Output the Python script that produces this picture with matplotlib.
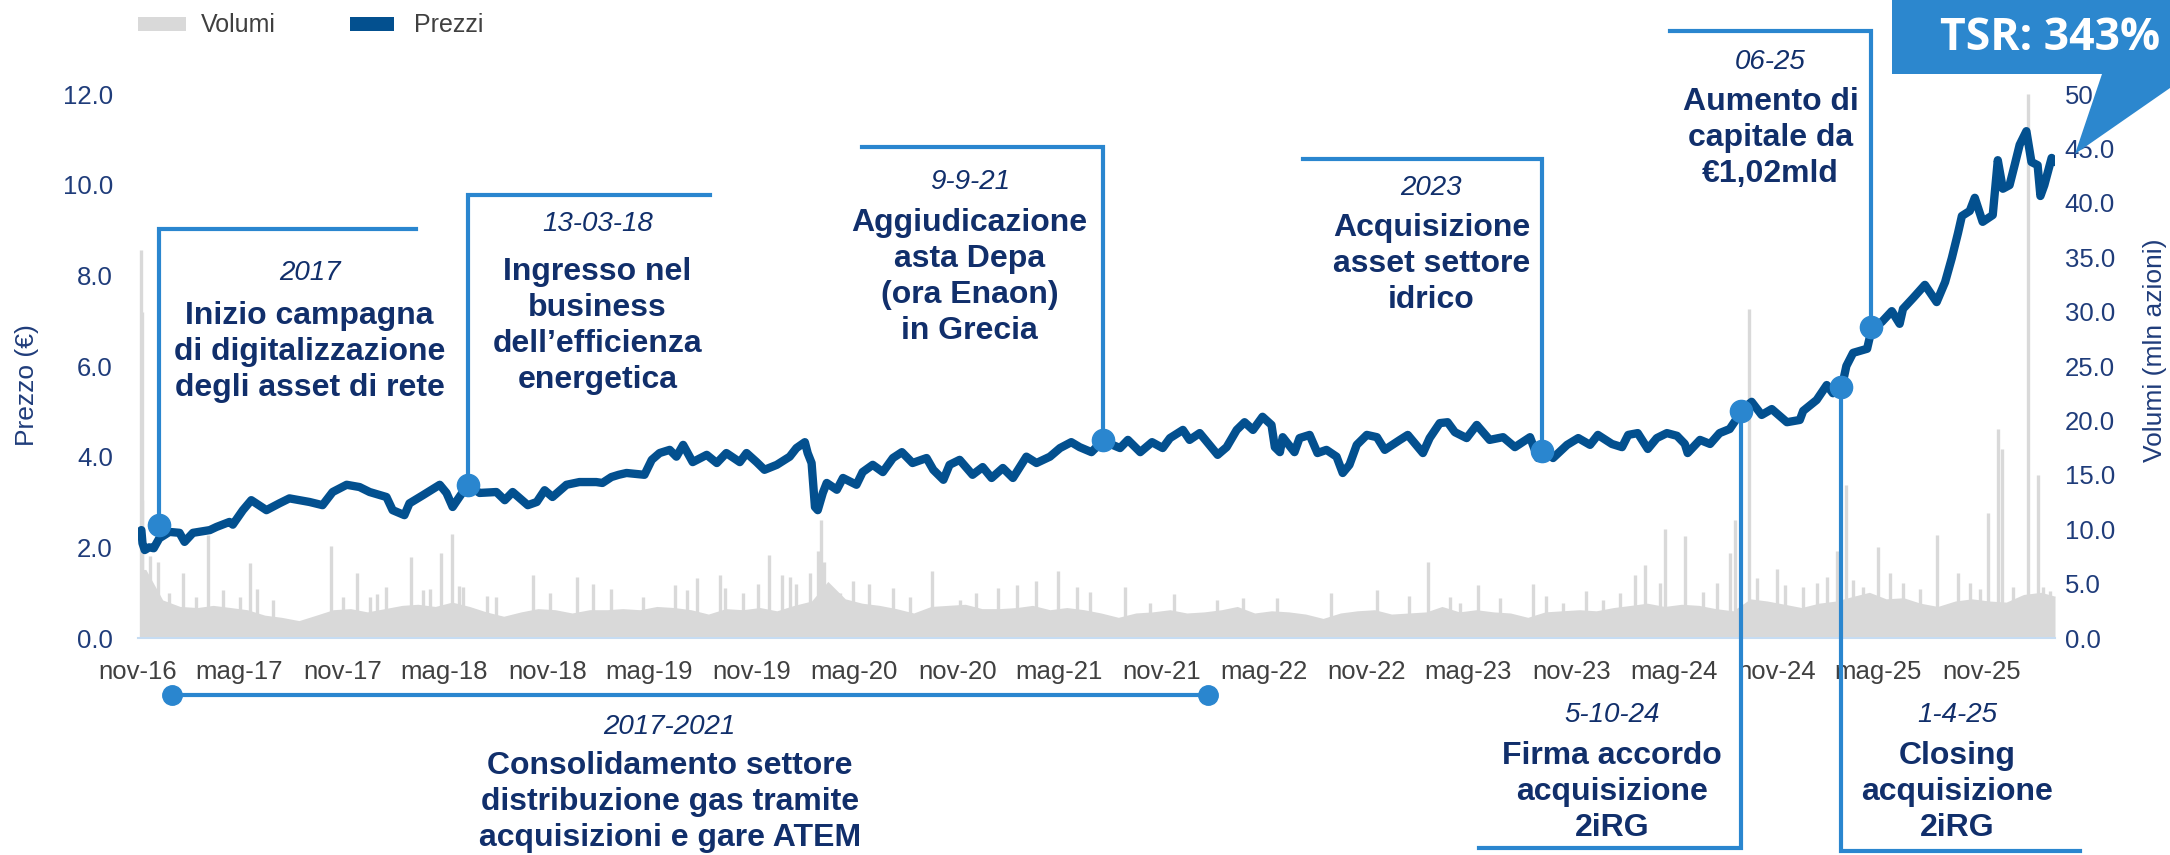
import matplotlib
matplotlib.use("Agg")
import matplotlib.pyplot as plt
import matplotlib.dates as mdates
import numpy as np
import pandas as pd
from matplotlib.patches import Rectangle, Polygon

plt.rcParams["font.family"] = ["Liberation Sans", "DejaVu Sans"]

# Colours
NAVY = "#112F6B"
AXIS_NAVY = "#1F3C7A"
PRICE_BLUE = "#03508F"
EVENT_BLUE = "#2A86CF"
VOL_GREY = "#D9D9D9"
TICK_GREY = "#404040"

W, H = 2170, 855

# ---------------------------------------------------------------------------
# Data
# ---------------------------------------------------------------------------
price_dates = [
    "2016-11-07", "2016-11-09", "2016-11-13", "2016-11-21", "2016-11-29", "2016-12-09", "2016-12-27",
    "2017-01-14", "2017-01-23", "2017-02-07", "2017-03-09", "2017-03-21", "2017-04-13", "2017-04-19",
    "2017-05-07", "2017-05-22", "2017-06-18", "2017-07-11", "2017-07-29", "2017-09-03", "2017-09-26",
    "2017-10-14", "2017-11-08", "2017-12-01", "2017-12-19", "2018-01-18", "2018-01-29", "2018-02-19",
    "2018-02-28", "2018-03-24", "2018-04-23", "2018-05-05", "2018-05-16", "2018-05-28", "2018-06-12",
    "2018-07-03", "2018-08-02", "2018-08-17", "2018-08-31", "2018-09-27", "2018-10-13", "2018-10-27",
    "2018-11-10", "2018-12-05", "2018-12-28", "2019-01-27", "2019-02-07", "2019-02-23", "2019-03-08",
    "2019-03-22", "2019-04-23", "2019-05-06", "2019-05-20", "2019-06-07", "2019-06-19", "2019-07-01",
    "2019-07-18", "2019-08-12", "2019-08-30", "2019-09-16", "2019-10-10", "2019-10-22", "2019-11-09",
    "2019-11-23", "2019-12-15", "2020-01-07", "2020-01-19", "2020-02-03", "2020-02-08", "2020-02-15",
    "2020-02-21", "2020-02-26", "2020-03-06", "2020-03-13", "2020-03-31", "2020-04-11", "2020-05-05",
    "2020-05-16", "2020-06-03", "2020-06-21", "2020-07-09", "2020-07-25", "2020-08-13", "2020-09-07",
    "2020-09-19", "2020-10-07", "2020-10-18", "2020-11-05", "2020-11-28", "2020-12-16", "2021-01-01",
    "2021-01-21", "2021-02-08", "2021-03-04", "2021-03-22", "2021-04-15", "2021-05-03", "2021-05-23",
    "2021-06-07", "2021-06-28", "2021-07-18", "2021-08-18", "2021-09-01", "2021-09-23", "2021-10-14",
    "2021-11-02", "2021-11-15", "2021-12-08", "2021-12-20", "2022-01-07", "2022-02-08", "2022-02-24",
    "2022-03-14", "2022-03-28", "2022-04-12", "2022-04-29", "2022-05-15", "2022-05-21", "2022-05-30",
    "2022-06-04", "2022-06-25", "2022-07-04", "2022-07-22", "2022-08-05", "2022-08-21", "2022-09-08",
    "2022-09-19", "2022-10-01", "2022-10-14", "2022-11-01", "2022-11-19", "2022-12-03", "2022-12-30",
    "2023-01-13", "2023-02-09", "2023-02-21", "2023-03-11", "2023-03-25", "2023-04-07", "2023-04-28",
    "2023-05-16", "2023-06-08", "2023-07-02", "2023-07-23", "2023-08-19", "2023-09-02", "2023-09-15",
    "2023-09-29", "2023-10-24", "2023-11-13", "2023-12-04", "2023-12-18", "2024-01-12", "2024-01-30",
    "2024-02-10", "2024-02-27", "2024-03-16", "2024-04-01", "2024-04-19", "2024-05-07", "2024-05-21",
    "2024-05-26", "2024-06-17", "2024-07-05", "2024-07-22", "2024-08-09", "2024-08-22", "2024-09-02",
    "2024-09-17", "2024-10-05", "2024-10-23", "2024-11-19", "2024-12-12", "2024-12-18", "2025-01-11",
    "2025-01-29", "2025-02-09", "2025-02-25", "2025-03-05", "2025-03-17", "2025-04-11", "2025-04-20",
    "2025-05-07", "2025-05-25", "2025-06-08", "2025-06-14", "2025-07-02", "2025-07-23", "2025-08-13",
    "2025-08-28", "2025-09-09", "2025-09-20", "2025-09-27", "2025-10-11", "2025-10-20", "2025-11-03",
    "2025-11-21", "2025-11-30", "2025-12-09", "2025-12-21", "2025-12-30", "2026-01-08", "2026-01-20",
    "2026-01-29", "2026-02-09", "2026-02-14", "2026-02-21", "2026-03-06", "2026-03-11",
]
price_eur = [
    2.38, 2.09, 1.94, 2.00, 1.98, 2.20, 2.34,
    2.32, 2.12, 2.32, 2.38, 2.45, 2.56, 2.50,
    2.82, 3.04, 2.82, 2.97, 3.08, 3.00, 2.93,
    3.22, 3.38, 3.33, 3.22, 3.11, 2.82, 2.71,
    2.97, 3.15, 3.38, 3.20, 2.89, 3.11, 3.38,
    3.20, 3.22, 3.04, 3.22, 2.93, 3.00, 3.26,
    3.11, 3.38, 3.44, 3.44, 3.42, 3.55, 3.60,
    3.64, 3.60, 3.93, 4.08, 4.15, 4.00, 4.26,
    3.88, 4.04, 3.86, 4.08, 3.88, 4.08, 3.88,
    3.71, 3.82, 4.00, 4.19, 4.32, 4.08, 3.86,
    2.89, 2.82, 3.20, 3.42, 3.27, 3.53, 3.38,
    3.66, 3.82, 3.66, 3.97, 4.10, 3.86, 3.97,
    3.71, 3.49, 3.82, 3.93, 3.60, 3.77, 3.53,
    3.75, 3.53, 4.00, 3.86, 4.00, 4.19, 4.32,
    4.21, 4.10, 4.35, 4.19, 4.37, 4.10, 4.32,
    4.19, 4.41, 4.59, 4.37, 4.52, 4.04, 4.21,
    4.59, 4.76, 4.59, 4.88, 4.70, 4.21, 4.10,
    4.43, 4.10, 4.41, 4.48, 4.08, 4.15, 4.00,
    3.64, 3.82, 4.26, 4.48, 4.43, 4.15, 4.37,
    4.48, 4.08, 4.41, 4.74, 4.76, 4.54, 4.41,
    4.70, 4.37, 4.43, 4.21, 4.43, 3.97, 4.15,
    3.97, 4.26, 4.41, 4.26, 4.48, 4.28, 4.21,
    4.48, 4.52, 4.17, 4.41, 4.52, 4.46, 4.28,
    4.08, 4.37, 4.28, 4.52, 4.61, 4.85, 5.05,
    5.21, 4.92, 5.05, 4.76, 4.81, 5.01, 5.25,
    5.58, 5.40, 5.54, 6.00, 6.29, 6.38, 6.86,
    6.97, 7.21, 6.93, 7.26, 7.50, 7.79, 7.41,
    7.85, 8.38, 8.93, 9.31, 9.42, 9.71, 9.18,
    9.33, 10.54, 9.91, 9.99, 10.43, 10.88, 11.18,
    10.50, 10.43, 9.75, 9.99, 10.59, 10.50,
]

# Monthly typical traded volume (mln shares), Nov 2016 .. Mar 2026
volume_first_month = "2016-11"
volume_monthly = [
    6.3, 3.5,
    2.9, 2.8, 3.0, 2.8, 2.6, 2.1, 1.9, 1.6, 2.1, 2.6, 2.7, 2.4,
    2.7, 3.0, 3.1, 2.9, 3.3, 2.9, 2.4, 2.0, 2.4, 2.7, 2.6, 2.3,
    2.6, 2.6, 2.7, 2.6, 2.9, 2.8, 2.6, 2.2, 2.7, 2.6, 2.8, 2.5,
    3.0, 3.4, 5.2, 3.6, 3.2, 3.0, 2.7, 2.3, 2.9, 3.0, 3.1, 2.7,
    2.7, 2.8, 3.0, 2.6, 2.8, 2.6, 2.3, 1.9, 2.3, 2.4, 2.6, 2.3,
    2.4, 2.6, 2.9, 2.3, 2.5, 2.4, 2.2, 1.8, 2.3, 2.5, 2.6, 2.2,
    2.3, 2.4, 2.9, 2.4, 2.6, 2.4, 2.3, 1.9, 2.4, 2.5, 2.6, 2.5,
    2.8, 3.0, 3.2, 2.9, 3.1, 3.0, 2.7, 2.5, 3.6, 3.4, 3.1, 2.8,
    3.2, 3.4, 3.8, 4.2, 3.6, 3.7, 3.2, 2.9, 3.4, 3.6, 3.4, 3.3,
    4.0, 4.2, 3.8,
]
# Single-day volume peaks (mln shares)
spike_dates = [
    "2016-11-07", "2016-11-08", "2016-11-09", "2016-11-22", "2016-12-06", "2016-12-27", "2017-01-20",
    "2017-02-13", "2017-03-05", "2017-04-01", "2017-05-01", "2017-05-19", "2017-06-02", "2017-06-29",
    "2017-10-12", "2017-11-01", "2017-11-26", "2017-12-19", "2018-01-02", "2018-01-18", "2018-03-03",
    "2018-03-24", "2018-04-05", "2018-04-26", "2018-05-14", "2018-05-28", "2018-06-03", "2018-07-17",
    "2018-08-02", "2018-10-06", "2018-11-05", "2018-12-23", "2019-01-21", "2019-02-23", "2019-04-20",
    "2019-06-16", "2019-07-07", "2019-07-25", "2019-09-04", "2019-09-13", "2019-10-15", "2019-11-11",
    "2019-12-01", "2019-12-24", "2020-01-07", "2020-01-19", "2020-02-12", "2020-02-26", "2020-03-02",
    "2020-03-09", "2020-04-05", "2020-04-28", "2020-05-28", "2020-07-09", "2020-08-08", "2020-09-16",
    "2020-11-05", "2020-12-05", "2021-01-12", "2021-02-15", "2021-03-22", "2021-04-29", "2021-06-02",
    "2021-06-25", "2021-08-26", "2021-10-10", "2021-11-23", "2022-02-06", "2022-03-25", "2022-05-24",
    "2022-08-30", "2022-11-19", "2023-01-16", "2023-02-18", "2023-03-29", "2023-04-16", "2023-05-18",
    "2023-06-26", "2023-08-24", "2023-09-17", "2023-10-17", "2023-11-26", "2023-12-27", "2024-01-26",
    "2024-02-23", "2024-03-11", "2024-04-06", "2024-04-15", "2024-05-21", "2024-06-22", "2024-07-17",
    "2024-08-09", "2024-08-18", "2024-09-12", "2024-09-26", "2024-11-01", "2024-11-15", "2024-12-18",
    "2025-01-11", "2025-01-29", "2025-02-16", "2025-03-04", "2025-03-17", "2025-04-03", "2025-04-30",
    "2025-05-21", "2025-06-14", "2025-07-14", "2025-08-13", "2025-09-20", "2025-10-11", "2025-10-29",
    "2025-11-13", "2025-11-30", "2025-12-08", "2025-12-27", "2026-01-22", "2026-02-09", "2026-02-19",
    "2026-03-03",
]
spike_mln = [
    35.7, 30.0, 12.7, 7.5, 7.0, 4.1, 6.0,
    3.8, 9.5, 4.4, 3.8, 6.9, 4.5, 3.5,
    8.5, 3.8, 6.0, 3.8, 4.0, 4.7, 7.4,
    4.4, 4.5, 7.8, 9.6, 4.8, 4.7, 3.9,
    3.8, 5.8, 4.1, 5.6, 5.0, 4.5, 3.8,
    4.9, 4.4, 5.5, 5.8, 4.6, 4.1, 5.0,
    7.6, 5.8, 5.6, 5.0, 6.0, 8.0, 10.8,
    7.0, 4.1, 5.2, 5.0, 4.6, 3.8, 6.2,
    3.5, 4.1, 4.6, 4.9, 5.2, 6.2, 4.7,
    4.2, 4.7, 3.2, 4.0, 3.5, 3.7, 3.7,
    4.1, 4.4, 3.9, 7.0, 3.8, 3.2, 4.9,
    3.7, 5.0, 3.9, 3.2, 4.3, 3.5, 4.1,
    5.8, 6.7, 5.1, 10.0, 9.4, 4.2, 5.1,
    7.8, 10.8, 30.2, 5.5, 6.3, 4.9, 4.7,
    5.1, 5.6, 8.0, 14.1, 5.3, 4.7, 8.4,
    6.0, 5.1, 4.5, 9.5, 6.0, 5.1, 4.5,
    11.5, 19.2, 17.4, 4.7, 50.0, 15.0, 4.7,
    4.3,
]

# Events: marker position on the price line, bracket end and text
event_dates = ["2016-12-08", "2018-06-12", "2021-07-19", "2023-09-10", "2025-04-18"]
event_price = [2.50, 3.38, 4.37, 4.12, 6.86]
event_bracket_end = ["2018-03-11", "2019-08-17", "2020-05-14", "2022-07-10", "2024-04-24"]
event_bracket_top = [9.02, 9.77, 10.83, 10.57, 13.39]
event_text_x = ["2017-09-03", "2019-01-29", "2020-11-23", "2023-02-24", "2024-10-21"]
event_head_y = [8.05, 9.13, 10.06, 9.93, 12.71]
event_body_y = [6.31, 6.88, 7.96, 8.25, 11.03]
event_heads = ["2017", "13-03-18", "9-9-21", "2023", "06-25"]
event_bodies = [
    "Inizio campagna\ndi digitalizzazione\ndegli asset di rete",
    "Ingresso nel\nbusiness\ndell\u2019efficienza\nenergetica",
    "Aggiudicazione\nasta Depa\n(ora Enaon)\nin Grecia",
    "Acquisizione\nasset settore\nidrico",
    "Aumento di\ncapitale da\n\u20ac1,02mld",
]

low_event_dates = ["2024-08-29", "2025-02-23"]
low_event_price = [5.00, 5.54]
low_bracket_end = ["2023-05-20", "2026-04-25"]
low_bracket_y = [-4.63, -4.70]
low_text_x = ["2024-01-12", "2025-09-18"]
low_heads = ["5-10-24", "1-4-25"]
low_bodies = ["Firma accordo\nacquisizione\n2iRG", "Closing\nacquisizione\n2iRG"]

period_start, period_end, period_y = "2016-12-31", "2022-01-21", -1.26
period_text_x = "2019-06-07"
period_head = "2017-2021"
period_body = "Consolidamento settore\ndistribuzione gas tramite\nacquisizioni e gare ATEM"

axis_start, axis_end = "2016-11-01", "2026-03-12"
tick_dates = pd.date_range("2016-11-01", "2025-11-01", freq="6MS")
month_it = {5: "mag", 11: "nov"}


def fx(x):
    return x / W


def fy(y):
    return 1 - y / H


def d(s):
    return mdates.date2num(pd.Timestamp(s))


fig = plt.figure(figsize=(W / 100, H / 100), dpi=100)
ax = fig.add_axes([fx(138), fy(638), fx(2055) - fx(138), fy(94) - fy(638)])
ax_vol = ax.twinx()
ax.set_zorder(ax_vol.get_zorder() + 1)
ax.patch.set_visible(False)

# Volumes (right axis)
v_dates = pd.date_range(volume_first_month + "-01", periods=len(volume_monthly), freq="MS") + pd.Timedelta(days=14)
v_x = np.concatenate([[d(price_dates[0])], mdates.date2num(v_dates), [d(axis_end)]])
v_y = np.concatenate([[volume_monthly[0]], volume_monthly, [volume_monthly[-1]]])
ax_vol.fill_between(v_x, 0, v_y, color=VOL_GREY, lw=0)
ax_vol.vlines([d(s) for s in spike_dates], 0, spike_mln, color=VOL_GREY, lw=2.4)
ax_vol.set_ylim(0, 50)
ax_vol.set_yticks(np.arange(0, 51, 5))
ax_vol.set_yticklabels([f"{v:.1f}" for v in np.arange(0, 51, 5)])
ax_vol.tick_params(axis="y", length=0, pad=7, labelsize=18.5, labelcolor=AXIS_NAVY)

# Price (left axis)
ax.plot([d(s) for s in price_dates], price_eur, color=PRICE_BLUE, lw=6,
        solid_joinstyle="round", solid_capstyle="round", zorder=3)
ax.set_ylim(0, 12)
ax.set_xlim(d(axis_start), d(axis_end))
ax.set_yticks(np.arange(0, 13, 2))
ax.set_yticklabels([f"{v:.1f}" for v in np.arange(0, 13, 2)])
ax.tick_params(axis="y", length=0, pad=18, labelsize=18.5, labelcolor=AXIS_NAVY)
ax.set_xticks(mdates.date2num(tick_dates))
ax.set_xticklabels([f"{month_it[t.month]}-{t.strftime('%y')}" for t in tick_dates])
ax.tick_params(axis="x", length=0, pad=16, labelsize=18.5, labelcolor=TICK_GREY)

for a in (ax, ax_vol):
    for s in a.spines.values():
        s.set_visible(False)
ax.spines["bottom"].set_visible(True)
ax.spines["bottom"].set_color("#C6DCF2")
ax.spines["bottom"].set_linewidth(1.5)

# Upper events
for i in range(len(event_dates)):
    x0, x1 = d(event_dates[i]), d(event_bracket_end[i])
    top = event_bracket_top[i]
    ax.plot([x0, x0, x1], [event_price[i], top, top], color=EVENT_BLUE, lw=3,
            clip_on=False, solid_joinstyle="miter", zorder=4)
    ax.plot(x0, event_price[i], "o", ms=16, color=EVENT_BLUE, clip_on=False, zorder=5)
    tx = d(event_text_x[i])
    ax.text(tx, event_head_y[i], event_heads[i], fontsize=20, style="italic", color=NAVY,
            ha="center", va="center", clip_on=False)
    ax.text(tx, event_body_y[i], event_bodies[i], fontsize=23, fontweight="bold", color=NAVY,
            ha="center", va="center", multialignment="center", linespacing=1.27, clip_on=False)

# Lower events
for i in range(len(low_event_dates)):
    x0, x1 = d(low_event_dates[i]), d(low_bracket_end[i])
    yb = low_bracket_y[i]
    ax.plot([x0, x0, x1], [low_event_price[i], yb, yb], color=EVENT_BLUE, lw=3,
            clip_on=False, solid_joinstyle="miter", zorder=4)
    ax.plot(x0, low_event_price[i], "o", ms=16, color=EVENT_BLUE, clip_on=False, zorder=5)
    tx = d(low_text_x[i])
    ax.text(tx, -1.70, low_heads[i], fontsize=20, style="italic", color=NAVY,
            ha="center", va="center", clip_on=False)
    ax.text(tx, -3.40, low_bodies[i], fontsize=23, fontweight="bold", color=NAVY,
            ha="center", va="center", multialignment="center", linespacing=1.27, clip_on=False)

# 2017-2021 period
ax.plot([d(period_start), d(period_end)], [period_y, period_y], color=EVENT_BLUE, lw=3,
        marker="o", ms=14, clip_on=False, zorder=4)
ax.text(d(period_text_x), -1.96, period_head, fontsize=20, style="italic", color=NAVY,
        ha="center", va="center", clip_on=False)
ax.text(d(period_text_x), -3.62, period_body, fontsize=23, fontweight="bold", color=NAVY,
        ha="center", va="center", multialignment="center", linespacing=1.27, clip_on=False)

# Axis titles
fig.text(fx(27), fy(385), "Prezzo (\u20ac)", rotation=90, fontsize=19, color=AXIS_NAVY,
         ha="center", va="center")
fig.text(fx(2155), fy(350), "Volumi (mln azioni)", rotation=90, fontsize=19, color=AXIS_NAVY,
         ha="center", va="center")

# Legend
fig.add_artist(Rectangle((fx(138), fy(31)), fx(186) - fx(138), fy(17) - fy(31),
                         transform=fig.transFigure, color=VOL_GREY, lw=0))
fig.text(fx(201), fy(25), "Volumi", fontsize=18, color=TICK_GREY, va="center")
fig.add_artist(Rectangle((fx(350), fy(31)), fx(394) - fx(350), fy(17) - fy(31),
                         transform=fig.transFigure, color=PRICE_BLUE, lw=0))
fig.text(fx(414), fy(25), "Prezzi", fontsize=18, color=TICK_GREY, va="center")

# TSR callout
callout = [(1892, 0), (2170, 0), (2170, 88), (2075, 154), (2102, 74), (1892, 74)]
fig.add_artist(Polygon([(fx(x), fy(y)) for x, y in callout], closed=True,
                       transform=fig.transFigure, color="#2C87CE", lw=0, zorder=10))
fig.text(fx(1940), fy(50), "TSR: 343%", fontsize=32, fontweight="bold", color="white",
         family=["Open Sans", "DejaVu Sans"], ha="left", va="baseline", zorder=11)

fig.savefig("out.png", dpi=100)
